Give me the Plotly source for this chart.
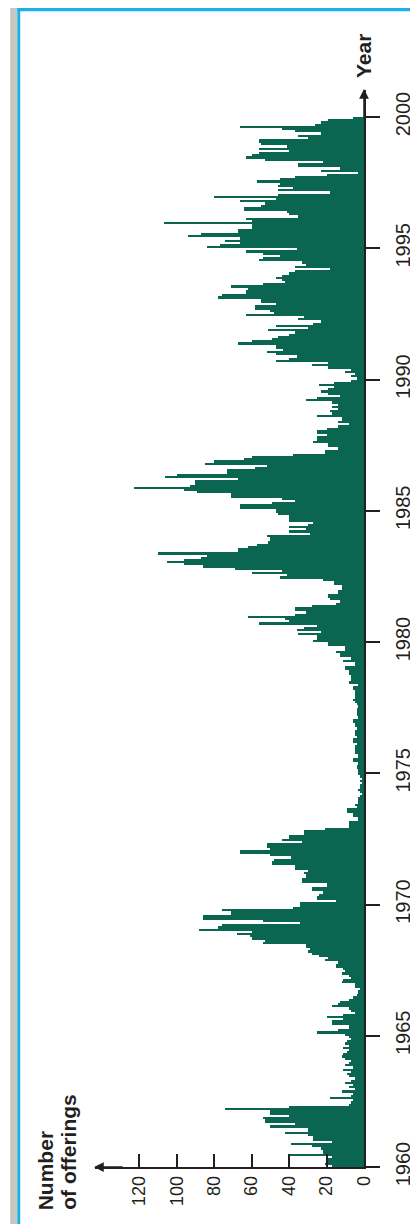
import plotly.graph_objects as go

# ---------------- data (monthly number of offerings, Jan..Dec) ----------------
START_YEAR = 1960

offerings_1960s = [
    17, 21, 19, 20, 17, 40, 22, 22, 23, 28, 39, 17,   # 1960
    27, 27, 30, 42, 30, 30, 50, 37, 53, 53, 54, 40,   # 1961
    50, 50, 74, 40, 8, 7, 6, 18, 7, 6, 12, 5,         # 1962
    8, 6, 10, 7, 5, 8, 9, 7, 11, 6, 10, 8,            # 1963
    7, 10, 12, 11, 9, 8, 11, 8, 10, 9, 7, 8,          # 1964
    10, 25, 14, 8, 8, 17, 17, 11, 20, 11, 5, 7,       # 1965
    8, 17, 14, 13, 8, 6, 4, 3, 3, 2, 5, 5,            # 1966
    12, 11, 7, 8, 12, 10, 11, 15, 15, 14, 21, 19,     # 1967
    24, 28, 30, 29, 31, 31, 54, 53, 60, 61, 68, 60,   # 1968
    88, 78, 76, 34, 54, 86, 86, 71, 71, 76, 38, 34,   # 1969
]
offerings_1970s = [
    34, 15, 25, 25, 24, 22, 28, 28, 20, 20, 33, 33,   # 1970
    31, 31, 32, 30, 37, 37, 49, 49, 48, 39, 50, 66,   # 1971
    66, 50, 52, 52, 33, 44, 40, 40, 32, 32, 21, 8,    # 1972
    8, 8, 3, 3, 6, 6, 9, 9, 4, 5, 3, 3,               # 1973
    3, 2, 1, 2, 3, 2, 2, 1, 2, 1, 2, 3,               # 1974
    3, 3, 4, 4, 3, 6, 6, 3, 3, 5, 5, 5,               # 1975
    5, 4, 6, 6, 4, 5, 5, 5, 4, 5, 5, 6,               # 1976
    6, 3, 4, 4, 4, 4, 3, 4, 5, 6, 5, 5,               # 1977
    5, 5, 6, 6, 3, 8, 7, 7, 7, 8, 8, 10,              # 1978
    10, 5, 5, 11, 7, 13, 13, 15, 10, 10, 19, 19,      # 1979
]
offerings_1980s = [
    27, 25, 25, 35, 23, 36, 32, 25, 56, 40, 42, 62,   # 1980
    37, 31, 37, 37, 28, 15, 13, 18, 19, 19, 14, 14,   # 1981
    12, 12, 16, 16, 22, 45, 41, 60, 44, 69, 86, 96,   # 1982
    105, 96, 87, 84, 110, 67, 67, 62, 57, 51, 50, 50, # 1983
    52, 29, 40, 31, 40, 30, 27, 40, 40, 40, 46, 47,   # 1984
    47, 66, 66, 49, 37, 44, 71, 71, 89, 96, 123, 93,  # 1985
    90, 90, 67, 106, 100, 73, 73, 58, 52, 85, 80, 64, # 1986
    60, 38, 21, 21, 14, 19, 19, 27, 25, 25, 20, 25,   # 1987
    25, 20, 14, 8, 14, 12, 12, 25, 17, 18, 14, 17,    # 1988
    14, 17, 31, 25, 13, 19, 23, 19, 16, 24, 16, 7,    # 1989
]
offerings_1990s = [
    4, 7, 5, 10, 7, 19, 28, 19, 47, 40, 36, 47,       # 1990
    52, 43, 47, 47, 67, 60, 49, 46, 40, 37, 51, 30,   # 1991
    47, 27, 23, 35, 32, 63, 48, 50, 58, 58, 47, 55,   # 1992
    55, 78, 76, 63, 63, 62, 71, 54, 42, 44, 47, 44,   # 1993
    40, 37, 18, 37, 31, 33, 56, 54, 45, 54, 63, 36,   # 1994
    84, 77, 66, 74, 66, 94, 87, 67, 67, 60, 60, 107,  # 1995
    60, 63, 35, 40, 41, 64, 64, 55, 53, 66, 47, 80,   # 1996
    46, 18, 46, 38, 46, 45, 57, 45, 37, 20, 3, 23,    # 1997
    13, 35, 35, 22, 53, 63, 60, 56, 40, 56, 41, 55,   # 1998
    56, 56, 30, 35, 23, 37, 44, 66, 26, 23, 19, 6,    # 1999
]

year_ticks = [1960, 1965, 1970, 1975, 1980, 1985, 1990, 1995, 2000]
value_ticks = [0, 20, 40, 60, 80, 100, 120]
year_title = "Year"
value_title_lines = ["Number", "of offerings"]

values = offerings_1960s + offerings_1970s + offerings_1980s + offerings_1990s
months = [START_YEAR + (i + 0.5) / 12 for i in range(len(values))]

# ---------------- layout geometry ----------------
W, H = 418, 1224
ML, MR, MT, MB = 87, 55, 82, 65
PW, PH = W - ML - MR, H - MT - MB


def px(x):
    return (x - ML) / PW


def py(y):
    return (H - MB - y) / PH


BAR = "#0b6651"
INK = "#231f20"
BLUE = "#1cb1e6"
GRAY = "#c5c6bf"
FONT = "Liberation Sans, Arial, sans-serif"

fig = go.Figure(
    go.Bar(
        x=values,
        y=months,
        orientation="h",
        width=1 / 12,
        marker=dict(color=BAR, line=dict(width=0)),
        hoverinfo="x+y",
    )
)

fig.update_layout(
    width=W,
    height=H,
    autosize=False,
    margin=dict(l=ML, r=MR, t=MT, b=MB, pad=0),
    paper_bgcolor="white",
    plot_bgcolor="white",
    showlegend=False,
    bargap=0,
    font=dict(family=FONT, color=INK),
)

fig.update_xaxes(
    range=[143.6, 0],
    tickvals=value_ticks,
    ticktext=[str(v) for v in value_ticks],
    ticks="inside",
    ticklen=13,
    tickwidth=1.5,
    tickcolor=INK,
    tickangle=-90,
    tickfont=dict(size=18, color=INK, family=FONT),
    ticklabelstandoff=0,
    showline=True,
    linecolor=INK,
    linewidth=1.5,
    showgrid=False,
    zeroline=False,
    fixedrange=True,
)

fig.update_yaxes(
    range=[1960, 2000 + 27 / 26.25],
    side="right",
    tickvals=year_ticks,
    ticktext=[str(v) for v in year_ticks],
    ticks="outside",
    ticklen=14,
    tickwidth=1.5,
    tickcolor=INK,
    tickangle=-90,
    tickfont=dict(size=20, color=INK, family=FONT),
    ticklabelstandoff=6,
    showline=True,
    linecolor=INK,
    linewidth=1.5,
    showgrid=False,
    zeroline=False,
    fixedrange=True,
)

shapes = [
    # gray strip and light-blue frame
    dict(type="rect", xref="paper", yref="paper", x0=px(0), x1=px(7.3),
         y0=py(H), y1=py(0), fillcolor=GRAY, line=dict(width=0), layer="below"),
    dict(type="rect", xref="paper", yref="paper", x0=px(7.3), x1=px(10.3),
         y0=py(H), y1=py(0), fillcolor=BLUE, line=dict(width=0), layer="below"),
    dict(type="rect", xref="paper", yref="paper", x0=px(7.3), x1=px(W),
         y0=py(3.3), y1=py(0), fillcolor=BLUE, line=dict(width=0), layer="below"),
    # extension of value axis to the right (1960 tick)
    dict(type="line", xref="paper", yref="paper", x0=1, x1=px(377),
         y0=0, y1=0, line=dict(color=INK, width=1.5)),
]
fig.update_layout(shapes=shapes)

annotations = [
    # arrow heads on axes
    dict(xref="paper", yref="paper", x=px(86), y=0, ax=30, ay=0, text="",
         showarrow=True, arrowhead=2, arrowsize=1.3, arrowwidth=1.5,
         arrowcolor=INK, standoff=0),
    dict(xref="paper", yref="paper", x=1, y=py(81), ax=0, ay=30, text="",
         showarrow=True, arrowhead=2, arrowsize=1.3, arrowwidth=1.5,
         arrowcolor=INK, standoff=0),
    # titles
    dict(xref="paper", yref="paper", x=px(362), y=py(48), text="<b>%s</b>" % year_title,
         textangle=-90, showarrow=False, xanchor="center", yanchor="middle",
         font=dict(size=21, color=INK, family=FONT)),
    dict(xref="paper", yref="paper", x=px(36), y=py(1163),
         text="<b>%s</b>" % value_title_lines[0],
         textangle=-90, showarrow=False, xanchor="center", yanchor="middle",
         font=dict(size=21, color=INK, family=FONT)),
    dict(xref="paper", yref="paper", x=px(59), y=py(1144),
         text="<b>%s</b>" % value_title_lines[1],
         textangle=-90, showarrow=False, xanchor="center", yanchor="middle",
         font=dict(size=21, color=INK, family=FONT)),
]
fig.update_layout(annotations=annotations)

fig.write_html("out.html")
